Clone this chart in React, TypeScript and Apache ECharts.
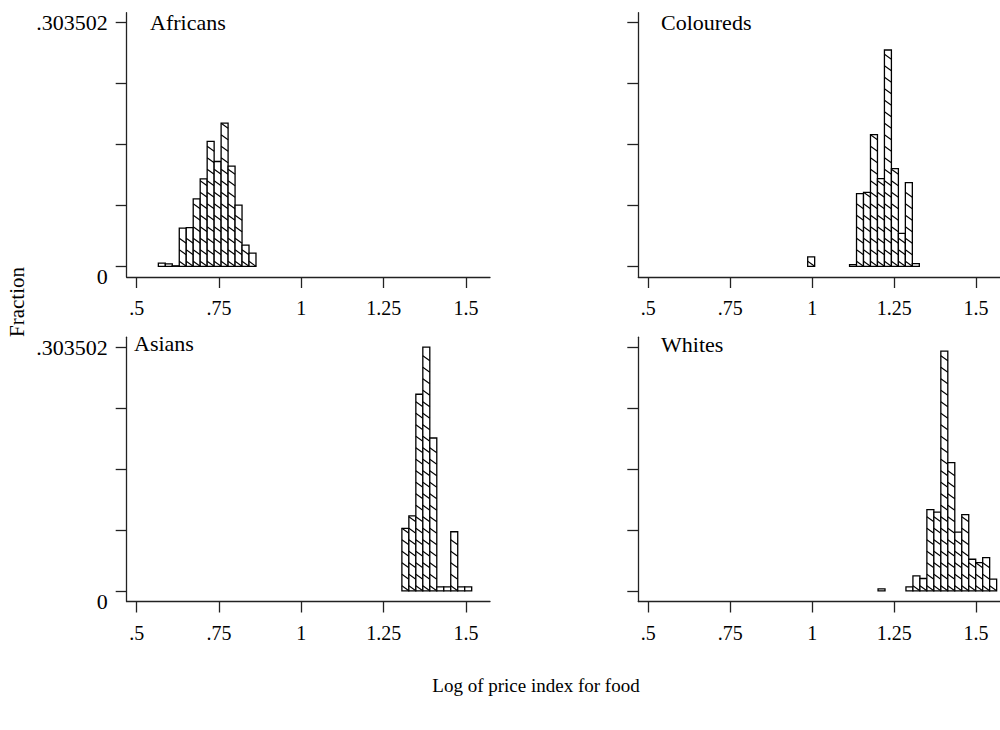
import React, { useEffect, useRef } from "react";
import * as echarts from "echarts";

// ---- data (fractions per bin) ----
const panelTitles = ["Africans", "Coloureds", "Asians", "Whites"];
const xTickValues = [0.5, 0.75, 1, 1.25, 1.5];
const xTickLabels = [".5", ".75", "1", "1.25", "1.5"];
const yTopValue = 0.303502;
const yTopLabel = ".303502";
const yZeroLabel = "0";

const africansStart = 0.5657;
const africansBinWidth = 0.02118;
const africans = [0.004, 0.0031, 0.0006, 0.0476, 0.0483, 0.0841, 0.109, 0.1557, 0.1306, 0.1784, 0.1248, 0.0762, 0.0264, 0.0164];

const colouredsStart = 0.9863;
const colouredsBinWidth = 0.02128;
const coloureds = [0.0117, null, null, null, null, null, 0.0021, 0.0906, 0.0922, 0.1641, 0.1093, 0.2695, 0.1217, 0.0411, 0.1043, 0.0034];

const asiansStart = 1.3053;
const asiansBinWidth = 0.0212;
const asians = [0.0777, 0.0934, 0.2449, 0.303502, 0.1904, 0.005, 0.005, 0.0736, 0.005, 0.005];

const whitesStart = 1.2009;
const whitesBinWidth = 0.02128;
const whites = [0.0025, null, null, null, 0.005, 0.0186, 0.0153, 0.1012, 0.0979, 0.2986, 0.1598, 0.0731, 0.095, 0.0393, 0.0351, 0.0413, 0.0145];

const xAxisTitle = "Log of price index for food";
const yAxisTitle = "Fraction";

const FONT = "'Liberation Serif', 'Times New Roman', serif";

function toBins(start: number, w: number, vals: (number | null)[]) {
  const out: number[][] = [];
  vals.forEach((v, i) => {
    if (v === null || v === undefined) return;
    out.push([start + i * w, v, start + (i + 1) * w]);
  });
  return out;
}

function renderHist(params: any, api: any) {
  const x0 = api.value(0);
  const h = api.value(1);
  const x1 = api.value(2);
  const p0 = api.coord([x0, 0]);
  const p1 = api.coord([x1, h]);
  const left = p0[0];
  const right = p1[0];
  const base = p0[1];
  const top = p1[1];
  const w = right - left;
  const children: any[] = [
    {
      type: "rect",
      shape: { x: left, y: top, width: w, height: base - top },
      style: { fill: "#fff", stroke: "#000", lineWidth: 1.3 },
    },
  ];
  const s = 11.5;
  const d = 5;
  for (let k = 0; k < 100; k++) {
    const yb = base - k * s;
    const yt = yb - d;
    if (yt < top - 0.5) break;
    children.push({
      type: "line",
      shape: { x1: left, y1: yt, x2: right, y2: yb },
      style: { stroke: "#000", lineWidth: 1.1 },
    });
  }
  return { type: "group", children };
}

export default function App() {
  const ref = useRef<HTMLDivElement>(null);
  useEffect(() => {
    if (!ref.current) return;
    const chart = echarts.init(ref.current, null, { renderer: "svg" });
    const yStep = yTopValue / 4;
    const yMin = -0.01333;
    const yMax = 0.31596;
    const xMin = 0.4696;
    const xMax = 1.5729;
    const grids = [
      { left: 126.7, top: 12.7, width: 363.3, height: 264.3 },
      { left: 638.3, top: 12.7, width: 363.3, height: 264.3 },
      { left: 126.7, top: 337.2, width: 363.3, height: 264.3 },
      { left: 638.3, top: 337.2, width: 363.3, height: 264.3 },
    ];
    const datasets = [
      toBins(africansStart, africansBinWidth, africans),
      toBins(colouredsStart, colouredsBinWidth, coloureds),
      toBins(asiansStart, asiansBinWidth, asians),
      toBins(whitesStart, whitesBinWidth, whites),
    ];
    const axisLine = { show: true, onZero: false, lineStyle: { color: "#222", width: 1.3 } };
    const xAxes = grids.map((_, i) => ({
      type: "value",
      gridIndex: i,
      min: xMin,
      max: xMax,
      axisLine,
      splitLine: { show: false },
      axisTick: { show: true, length: 11, customValues: xTickValues, lineStyle: { color: "#222", width: 1.3 } },
      axisLabel: {
        show: true,
        customValues: xTickValues,
        margin: 21,
        fontFamily: FONT,
        fontSize: 20,
        color: "#000",
        formatter: (v: number) => {
          const idx = xTickValues.findIndex((t) => Math.abs(t - v) < 1e-6);
          return idx >= 0 ? xTickLabels[idx] : "";
        },
      },
    }));
    const yAxes = grids.map((_, i) => ({
      type: "value",
      gridIndex: i,
      min: yMin,
      max: yMax,
      axisLine,
      splitLine: { show: false },
      axisTick: {
        show: true,
        length: 11,
        customValues: [0, yStep, 2 * yStep, 3 * yStep, 4 * yStep],
        lineStyle: { color: "#222", width: 1.3 },
      },
      axisLabel: {
        show: i % 2 === 0,
        customValues: [yMin + 0.0001, yTopValue],
        margin: 19,
        fontFamily: FONT,
        fontSize: 22,
        color: "#000",
        formatter: (v: number) => (v > 0.1 ? yTopLabel : yZeroLabel),
      },
    }));
    const series = datasets.map((data, i) => ({
      type: "custom",
      xAxisIndex: i,
      yAxisIndex: i,
      renderItem: renderHist,
      data,
      clip: false,
      silent: true,
    }));
    const titlePos = [
      [150, 22],
      [661, 22],
      [134, 343],
      [661, 344],
    ];
    const graphic: any[] = panelTitles.map((t, i) => ({
      type: "text",
      x: titlePos[i][0],
      y: titlePos[i][1],
      style: { text: t, font: `22px ${FONT}`, fill: "#000", textAlign: "left", textVerticalAlign: "middle" },
    }));
    graphic.push({
      type: "text",
      x: 536,
      y: 685,
      style: { text: xAxisTitle, font: `19px ${FONT}`, fill: "#000", textAlign: "center", textVerticalAlign: "middle" },
    });
    graphic.push({
      type: "text",
      x: 17,
      y: 302,
      rotation: Math.PI / 2,
      style: { text: yAxisTitle, font: `21px ${FONT}`, fill: "#000", textAlign: "center", textVerticalAlign: "middle" },
    });
    chart.setOption({
      animation: false,
      backgroundColor: "#fff",
      grid: grids,
      xAxis: xAxes,
      yAxis: yAxes,
      series,
      graphic,
    });
    return () => chart.dispose();
  }, []);
  return (
    <div
      ref={ref}
      style={{ position: "fixed", left: 0, top: 0, width: 1000, height: 730, background: "#fff" }}
    />
  );
}
